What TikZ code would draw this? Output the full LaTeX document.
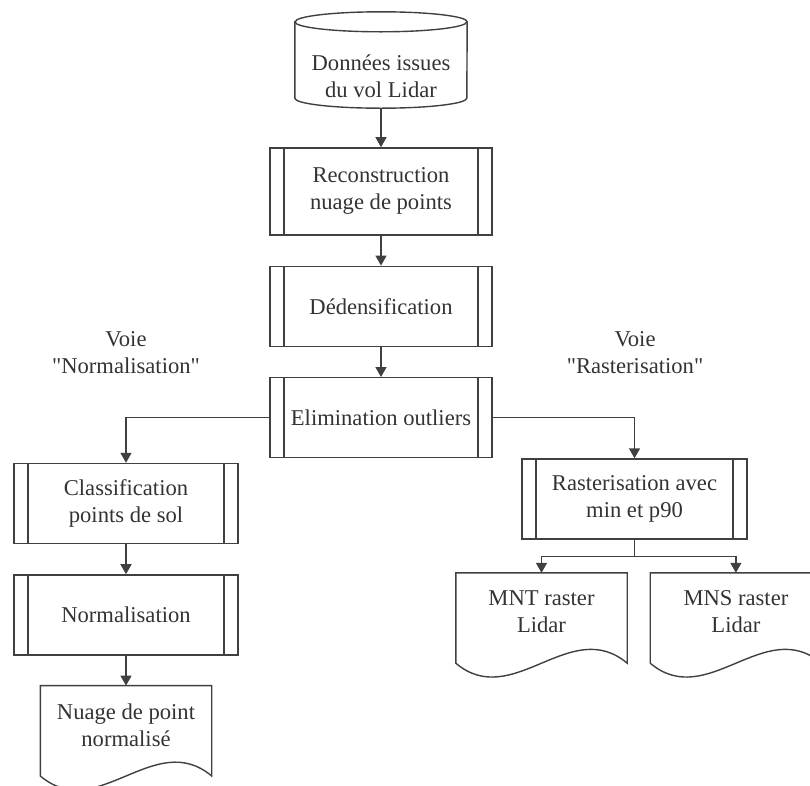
\documentclass[tikz,border=0pt]{standalone}
\usepackage{fontspec}
\setmainfont{Liberation Serif}[Ligatures=TeXOff]
\usetikzlibrary{positioning, arrows.meta}
\definecolor{linegray}{HTML}{404040}
\definecolor{textgray}{HTML}{333333}
\tikzset{
  x=1pt, y=1pt,
  node distance=30pt,
  every node/.style={font=\fontsize{22.6}{27}\selectfont, text=textgray, align=center},
  outline/.style={draw=linegray, line width=1.4pt},
  flow/.style={outline, -{Triangle[width=11pt, length=10pt]}},
  process/.style={outline, rectangle, minimum width=222pt, minimum height=80pt, inner sep=0pt,
    path picture={
      \draw[outline] ([xshift=14pt]path picture bounding box.north west) -- ([xshift=14pt]path picture bounding box.south west);
      \draw[outline] ([xshift=-14pt]path picture bounding box.north east) -- ([xshift=-14pt]path picture bounding box.south east);
    }},
  document/.style={minimum width=171pt, minimum height=78pt, inner sep=0pt},
}

\begin{document}
\begin{tikzpicture}
  \useasboundingbox (0,0) rectangle (810,-785);
  \clip (0,0) rectangle (810,-785);

  % main branch
  \node[minimum width=172pt, minimum height=64pt, inner sep=0pt] (data) at (381,-76) {Données issues\\du vol Lidar};
  \node[process, minimum height=87pt, below=39pt of data] (recon) {Reconstruction\\nuage de points};
  \node[process, below=of recon] (dedens) {Dédensification};
  \node[process, below=of dedens] (elim) {Elimination outliers};

  % cylinder round the data
  \draw[outline] ([yshift=22pt]data.north west) -- ([yshift=10pt]data.south west)
    arc[start angle=180, end angle=360, x radius=86pt, y radius=10pt]
    -- ([yshift=22pt]data.north east)
    arc[start angle=0, end angle=180, x radius=86pt, y radius=10pt] -- cycle;
  \draw[outline] ([yshift=22pt]data.north west)
    arc[start angle=180, end angle=360, x radius=86pt, y radius=10pt];

  % left branch
  \node[process, minimum width=224pt] (classif) at (126,-503.5) {Classification\\points de sol};
  \node[process, minimum width=224pt, below=of classif] (normal) {Normalisation};
  \node[document, below=of normal] (nuage) {Nuage de point\\normalisé};

  % right branch
  \node[process, minimum width=225pt] (raster) at (634.5,-499) {Rasterisation avec\\min et p90};
  \node[document] (mnt) at (541.5,-612) {MNT raster\\Lidar};
  \node[document, right=23pt of mnt] (mns) {MNS raster\\Lidar};

  % labels
  \node (voienorm) at (126,-353) {Voie\\"Normalisation"};
  \node (voieraster) at (635,-353) {Voie\\"Rasterisation"};

  % document outlines
  \foreach \doc in {nuage, mnt, mns}
    \draw[outline] (\doc.north west) -- ([yshift=-12pt]\doc.south west)
      .. controls +(57,-48) and +(-57,48) .. ([yshift=-12pt]\doc.south east)
      -- (\doc.north east) -- cycle;

  % connectors
  \draw[flow] (data) -- (recon);
  \draw[flow] (recon) -- (dedens);
  \draw[flow] (dedens) -- (elim);
  \draw[flow] (elim.west) -| (classif.north);
  \draw[flow] (elim.east) -| (raster.north);
  \draw[flow] (classif) -- (normal);
  \draw[flow] (normal) -- (nuage);
  \draw[outline] (raster.south) -- ++(0,-17) coordinate (split);
  \draw[flow] (split) -| (mnt.north);
  \draw[flow] (split) -| (mns.north);
\end{tikzpicture}
\end{document}
